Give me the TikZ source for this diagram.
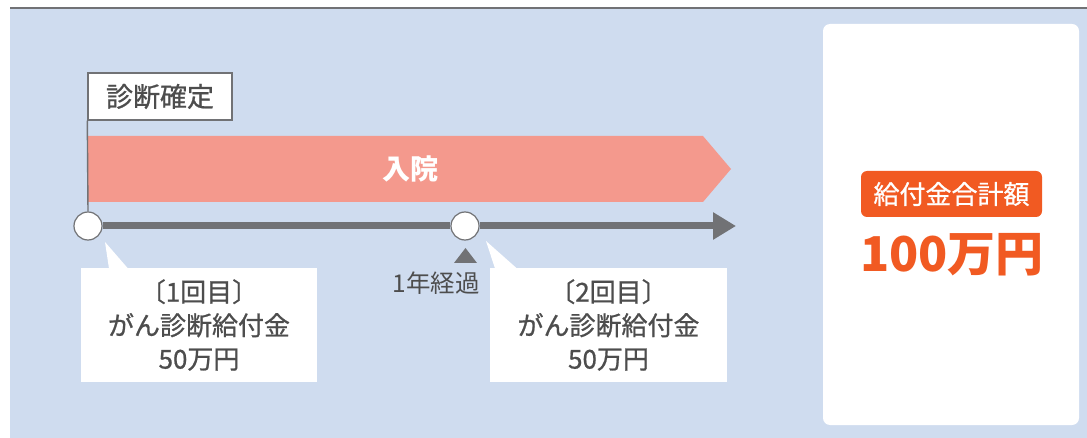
\documentclass[tikz,border=0pt]{standalone}
\usepackage{fontspec}
\setmainfont{Noto Sans CJK JP}
\newfontfamily\jpmed[FakeBold=0.8]{Noto Sans CJK JP}
\usetikzlibrary{arrows.meta}
\definecolor{bgblue}{HTML}{CFDCEF}
\definecolor{band}{HTML}{F4998D}
\definecolor{tline}{HTML}{717275}
\definecolor{txtgray}{HTML}{4D4D4D}
\definecolor{orng}{HTML}{F15A22}
\tikzset{
  dot/.style={circle, minimum size=28pt, inner sep=0pt, fill=white, draw=tline, line width=1.2pt},
  callout/.style={fill=white, minimum width=236pt, minimum height=114pt, inner sep=0pt, align=center,
    text=txtgray, font=\jpmed\fontsize{26}{33.5}\selectfont},
  axis/.style={draw=tline, line width=7pt},
}
\begin{document}
\begin{tikzpicture}[x=1pt,y=1pt]
\useasboundingbox (0,0) rectangle (1087,-438);
% background
\fill[bgblue] (10,-9) rectangle (1087,-438);
\draw[tline, line width=1.5pt] (10,-8.2) -- (1087,-8.2);
% right panel
\node[fill=white, rounded corners=7pt, minimum width=256pt, minimum height=401pt, inner sep=0pt] (panel) at (951,-224.5) {};
\node[fill=orng, rounded corners=6pt, minimum width=181pt, minimum height=46pt, inner sep=0pt,
  text=white, font=\jpmed\fontsize{26}{30}\selectfont] (total) at (951.5,-194) {給付金合計額};
\node[text=orng, inner sep=0pt, font=\fontsize{48}{50}\selectfont\bfseries] (sum) at (952,-255) {100万円};
% pink band
\fill[band] (88,-136) -- (703,-136) -- (731,-169) -- (703,-202) -- (88,-202) -- cycle;
\node[text=white, font=\fontsize{28}{30}\selectfont\bfseries] (nyuin) at (410,-169) {入院};
% diagnosis flag
\node[fill=white, draw=tline, line width=1.4pt, minimum width=144pt, minimum height=47pt, inner sep=0pt,
  text=txtgray, font=\jpmed\fontsize{27}{30}\selectfont] (diag) at (160,-96.5) {診断確定};
% timeline
\node[dot] (c1) at (88,-226) {};
\node[dot] (c2) at (465,-226) {};
\coordinate (tend) at (736,-226);
\draw[tline, line width=1.4pt] (diag.south west) -- (c1.north);
\draw[axis] (c1.east) -- (c2.west);
\draw[axis, -{Triangle[length=23pt,width=26pt]}] (c2.east) -- (tend);
% one year marker
\fill[tline] (454,-263) -- (477,-263) -- (465.5,-248) -- cycle;
\node[text=txtgray, font=\fontsize{24.5}{28}\selectfont] (year) at (436,-283) {1年経過};
% callouts
\node[callout] (cb1) at (199,-325) {〔1回目〕\\がん診断給付金\\50万円};
\fill[white] (105,-242) -- (109,-268.5) -- (128,-268.5) -- cycle;
\node[callout, minimum width=237pt] (cb2) at (608.5,-325) {〔2回目〕\\がん診断給付金\\50万円};
\fill[white] (486,-241) -- (495,-268.5) -- (517,-268.5) -- cycle;
\end{tikzpicture}
\end{document}
